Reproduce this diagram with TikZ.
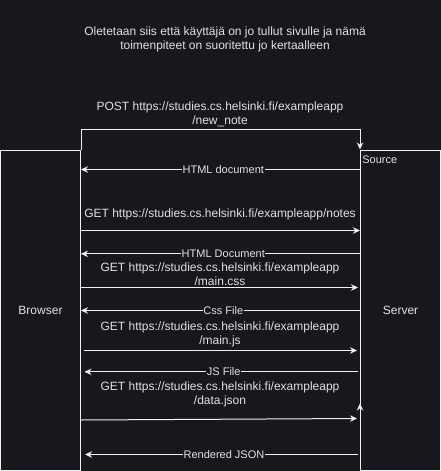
\documentclass[tikz,border=0pt]{standalone}
\usepackage{fontspec}
\setmainfont{Liberation Sans}
\usetikzlibrary{arrows.meta}
\definecolor{bg}{RGB}{24,23,30}
\definecolor{fg}{RGB}{225,225,225}
\definecolor{ln}{RGB}{240,240,240}
\begin{document}
\begin{tikzpicture}[x=1pt,y=-1pt,
  box/.style={draw=ln,line width=1pt,minimum width=80pt,minimum height=320pt,inner sep=0pt,text=fg,font=\fontsize{12}{14}\selectfont},
  txt/.style={text=fg,font=\fontsize{12}{14}\selectfont,align=center,inner sep=0pt},
  lbl/.style={text=fg,fill=bg,font=\fontsize{11}{13}\selectfont,inner sep=0.6pt},
  arr/.style={draw=ln,line width=1pt,-{Stealth[length=7pt,width=6.5pt,inset=2.2pt]}}]
\fill[bg] (0,0) rectangle (441,471);
\useasboundingbox (0,0) rectangle (441,471);
\node[box] (browser) at (40.5,310) {Browser};
\node[box] (server) at (400.5,310) {Server};
\node[txt] (intro) at (225,39.5) {Oletetaan siis että käyttäjä on jo tullut sivulle ja nämä\\toimenpiteet on suoritettu jo kertaalleen};
\node[txt] (postlbl) at (220,114.5) {POST https://studies.cs.helsinki.fi/exampleapp\\/new\_note};
\node[lbl,fill=none,anchor=west] (source) at (361.5,160) {Source};
% POST
\draw[arr] (browser.north east) -- ++(0,-20) -| (server.north west);
% HTML document
\draw[arr] (server.west |- 0,169.5) -- (browser.east |- 0,169.5) node[lbl,pos=0.49] (l1) {HTML document};
% GET notes
\node[txt] (g1) at (220,214.5) {GET https://studies.cs.helsinki.fi/exampleapp/notes};
\draw[arr] (browser.east |- 0,230.5) -- (server.west |- 0,230.5);
% HTML Document
\draw[arr] (server.west |- 0,253.8) -- (browser.east |- 0,253.8) node[lbl,pos=0.49] (l2) {HTML Document};
% GET main.css
\node[txt] (g2) at (220,274.5) {GET https://studies.cs.helsinki.fi/exampleapp\\/main.css};
\draw[arr] (browser.east |- 0,287.5) -- ([xshift=-2pt]server.west |- 0,287.5);
% Css File
\draw[arr] (server.west |- 0,310.5) -- (browser.east |- 0,310.5) node[lbl,pos=0.49] (l3) {Css File};
% GET main.js
\node[txt] (g3) at (220,334.5) {GET https://studies.cs.helsinki.fi/exampleapp\\/main.js};
\draw[arr] ([xshift=2.5pt]browser.east |- 0,350.5) -- ([xshift=-3pt]server.west |- 0,350.5);
% JS File
\draw[arr] ([xshift=-2.5pt]server.west |- 0,371.8) -- ([xshift=3.5pt]browser.east |- 0,371.8) node[lbl,pos=0.49] (l4) {JS File};
% GET data.json
\node[txt] (g4) at (220,394.5) {GET https://studies.cs.helsinki.fi/exampleapp\\/data.json};
\draw[arr] (browser.east |- 0,420) -- ([xshift=-3pt]server.west |- 0,418.5);
% stray up arrow on server edge
\draw[arr] (server.south west) -- (server.west |- 0,403.5);
% Rendered JSON
\draw[arr] ([xshift=-2.5pt]server.west |- 0,454.5) -- ([xshift=4pt]browser.east |- 0,454.5) node[lbl,pos=0.49] (l5) {Rendered JSON};
\end{tikzpicture}
\end{document}
